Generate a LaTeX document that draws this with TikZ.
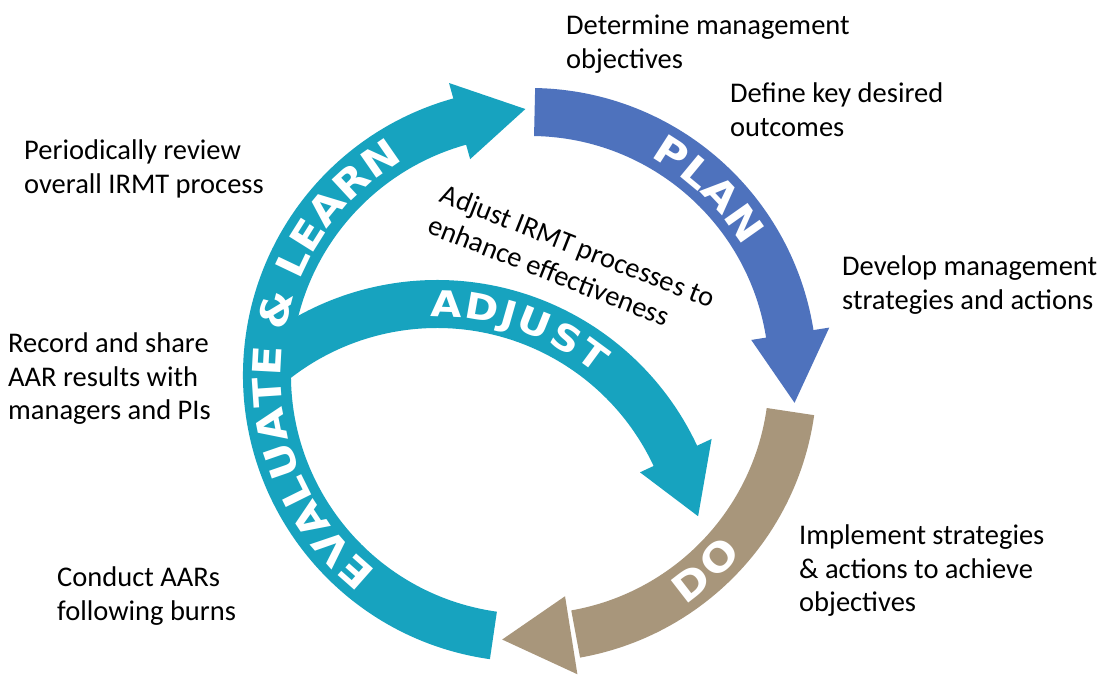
\documentclass[tikz,border=0pt]{standalone}
\usepackage{fontspec}
\setmainfont{Carlito}
\newfontfamily\bandfont{DejaVu Sans}[FakeStretch=1.12]
\usetikzlibrary{calc,decorations.text}
\definecolor{evalcol}{HTML}{17A3BF}
\definecolor{plancol}{HTML}{4E72BD}
\definecolor{docol}{HTML}{A8967B}
\begin{document}
\begin{tikzpicture}[x=1bp,y=1bp,
        band/.style={line width=48bp},
        note/.style={inner sep=0pt,anchor=north west,align=left,font=\fontsize{28.5bp}{33.5bp}\selectfont},
        bandtext/.style 2 args={decoration={text along path,text align=fit to path,text color=white,
            text={|\bandfont\bfseries\fontsize{#1}{#1}\selectfont|#2}},decorate}]
        \fill[white] (0,0) rectangle (1102,676);
        \useasboundingbox (0,0) rectangle (1102,676);

        \coordinate (ctr) at (530,301);
        \coordinate (adj) at (437,109);

        % plan
        \draw[band,plancol] ($(ctr)+(89:263)$) arc[start angle=89,end angle=8,radius=263];
        \fill[plancol] ($(ctr)+(9:224)$) -- ($(ctr)+(9:303)$) -- ($(ctr)+(-6:266)$) -- cycle;

        % do
        \draw[band,docol] ($(ctr)+(-8:263)$) arc[start angle=-8,end angle=-80,radius=263];
        \fill[docol] ($(ctr)+(-81:224)$) -- ($(ctr)+(-81:303)$) -- ($(ctr)+(-96:266)$) -- cycle;

        % evaluate & learn
        \draw[band,evalcol] ($(ctr)+(262:263)$) arc[start angle=262,end angle=104.5,radius=263];
        \fill[evalcol] ($(ctr)+(105.5:224)$) -- ($(ctr)+(105.5:303)$) -- ($(ctr)+(91:266)$) -- cycle;

        % adjust
        \draw[band,evalcol] ($(adj)+(130:263)$) arc[start angle=130,end angle=24,radius=263];
        \fill[evalcol] ($(adj)+(25:224)$) -- ($(adj)+(25:303)$) -- ($(adj)+(11:266)$) -- cycle;

        \path[bandtext={39bp}{PLAN}] ($(ctr)+(61:249)$) arc[start angle=61,end angle=31,radius=249];
        \path[bandtext={39bp}{EVALUATE {\&} LEARN}] ($(ctr)+(232:249)$) arc[start angle=232,end angle=123,radius=249];
        \path[bandtext={36bp}{ADJUST}] ($(adj)+(91.5:250)$) arc[start angle=91.5,end angle=50.5,radius=250];
        \path[bandtext={39bp}{DO}] ($(ctr)+(-56:277)$) arc[start angle=-56,end angle=-40,radius=277];

        \node[note] (determine) at (566,661) {Determine management\\objectives};
        \node[note] (define) at (730,593) {Define key desired\\outcomes};
        \node[note] (review) at (24,536) {Periodically review\\overall IRMT process};
        \node[note] (develop) at (842,420) {Develop management\\strategies and actions};
        \node[note] (record) at (8,343) {Record and share\\AAR results with\\managers and PIs};
        \node[note] (implement) at (799,151) {Implement strategies\\\& actions to achieve\\objectives};
        \node[note] (conduct) at (57,109) {Conduct AARs\\following burns};
        \node[note,rotate=-21.5] (enhance) at (446,493) {Adjust IRMT processes to\\enhance effectiveness};
\end{tikzpicture}
\end{document}
